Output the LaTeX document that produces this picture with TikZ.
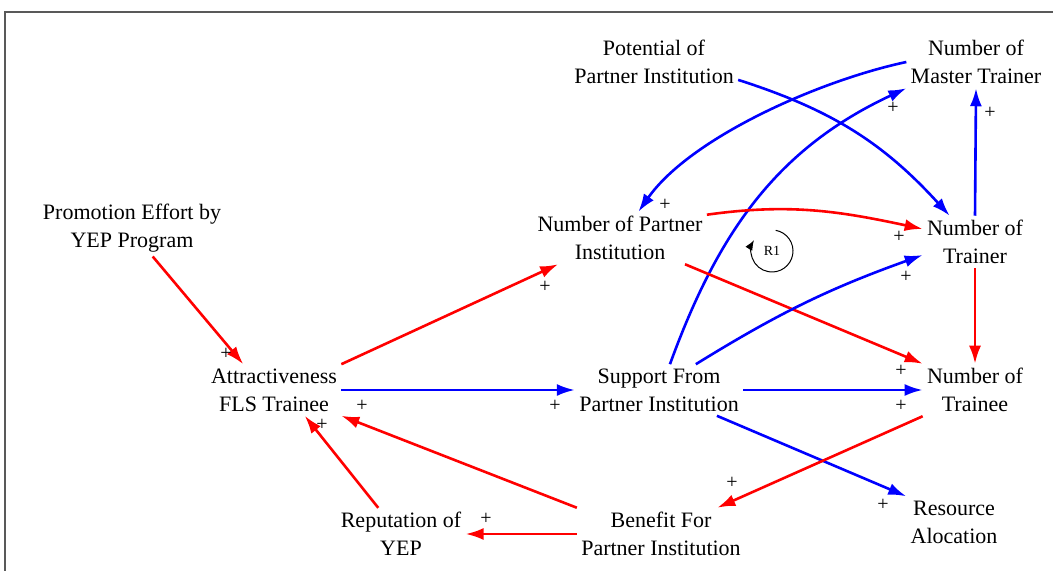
\documentclass[tikz,border=0pt]{standalone}
\usepackage{fontspec}
\setmainfont{Liberation Serif}
\usetikzlibrary{arrows.meta, positioning}

\begin{document}
\begin{tikzpicture}[x=0.5pt, y=-0.5pt,
    varnode/.style={align=center, inner sep=2pt, font=\fontsize{11}{14}\selectfont},
    sign/.style={inner sep=0pt, font=\fontsize{10}{12}\selectfont},
    link/.style={line width=1.3pt, -{Latex[length=9pt,width=6pt]}},
    redlink/.style={link, draw=red},
    bluelink/.style={link, draw=blue},
    looptip/.style={line width=0.5pt, -{Latex[length=5pt,width=4pt]}}
]
    \useasboundingbox (0,0) rectangle (1053,571);
    % --- Frame ---
    \draw[black!65, line width=1pt] (5,571) -- (5,12) -- (1053,12);

    % --- Variables ---
    \node[varnode] (promo) at (132,228) {Promotion Effort by\\YEP Program};
    \node[varnode] (attract) at (274,390) {Attractiveness\\FLS Trainee};
    \node[varnode] (npi) at (620,238) {Number of Partner\\Institution};
    \node[varnode] (potential) at (654,62) {Potential of\\Partner Institution};
    \node[varnode] (master) at (976,62) {Number of\\Master Trainer};
    \node[varnode] (trainer) at (975,242) {Number of\\Trainer};
    \node[varnode] (trainee) at (975,390) {Number of\\Trainee};
    \node[varnode] (support) at (659,390) {Support From\\Partner Institution};
    \node[varnode] (resource) at (954,522) {Resource\\Alocation};
    \node[varnode] (benefit) at (661,534) {Benefit For\\Partner Institution};
    \node[varnode] (reputation) at (401,534) {Reputation of\\YEP};

    % --- Links ---
    \draw[redlink] (promo.-54) -- (attract.140);
    \draw[redlink] (attract.north east) -- (npi.-157);
    \draw[bluelink] (attract.east) -- (support.west);
    \draw[bluelink] (potential.-12) to[bend left=15] (trainer.134);
    \draw[bluelink] (master.west) to[out=192, in=55, looseness=0.75] (npi.55);
    \draw[bluelink] (support.67) to[out=70, in=205] (master.south west);
    \draw[redlink] (npi.15) to[out=8, in=168] (trainer.166);
    \draw[redlink] (npi.-22) -- (trainee.north west);
    \draw[bluelink] (support.35) to[bend left=6] (trainer.194);
    \draw[bluelink] (support.east) -- (trainee.west);
    \draw[bluelink] (support.-24) -- (resource.north west);
    \draw[bluelink] (trainer.north) -- (master.south);
    \draw[redlink] (trainer.south) -- (trainee.north);
    \draw[redlink] (trainee.south west) -- (benefit.25);
    \draw[redlink] (benefit.north west) -- (attract.south east);
    \draw[redlink] (benefit.west) -- (reputation.east);
    \draw[redlink] (reputation.131) -- (attract.-40);

    % --- Polarity signs ---
    \foreach \px/\py [count=\k] in {226/354, 545/287, 555/406, 665/205, 893/108,
        990/113, 899/237, 901/371, 906/277, 901/406, 883/505, 732/483, 362/406,
        486/519, 322/425}
        \node[sign] (plus\k) at (\px,\py) {+};

    % --- Loop marker ---
    \node[font=\fontsize{7}{8}\selectfont, inner sep=0pt] (loop) at (772,251) {R1};
    \draw[looptip] (loop) ++(80:10.5pt) arc[start angle=80, end angle=-211, radius=10.5pt];
\end{tikzpicture}
\end{document}
